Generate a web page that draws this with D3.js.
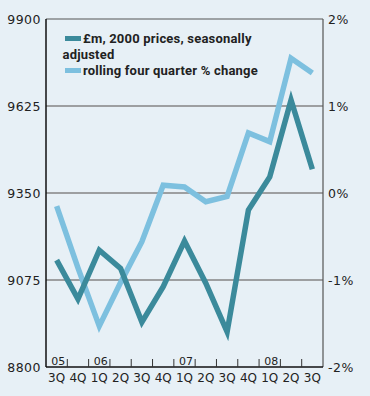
<!DOCTYPE html>
<html>
<head>
<meta charset="utf-8">
<script src="https://cdn.jsdelivr.net/npm/d3@7"></script>
<style>
  html, body { margin: 0; padding: 0; background: #e7f0f6; }
  svg { display: block; }
  .tick-lbl { font-family: "DejaVu Sans", sans-serif; font-size: 12.5px; fill: #222; }
  .legend { font-family: Roboto, "Noto Sans", sans-serif; font-weight: 700; font-size: 13px; letter-spacing: 0.2px; fill: #222; }
</style>
</head>
<body>
<svg id="chart" width="370" height="396"></svg>
<script>
// data
const quarters = ["3Q", "4Q", "1Q", "2Q", "3Q", "4Q", "1Q", "2Q", "3Q", "4Q", "1Q", "2Q", "3Q"];
const yearLabels = ["05", "06", "07", "08"];
const yearIndex = [0, 2, 6, 10];
const gdp = [9138, 9015, 9169, 9112, 8942, 9054, 9198, 9065, 8911, 9296, 9401, 9644, 9425];
const pctChange = [-0.15, -0.86, -1.53, -1.03, -0.56, 0.09, 0.07, -0.1, -0.04, 0.69, 0.59, 1.55, 1.38];
const leftTicks = [8800, 9075, 9350, 9625, 9900];
const rightTicks = [-2, -1, 0, 1, 2];

const darkCol = "#3b8a9b";
const lightCol = "#7dc0df";

const svg = d3.select("#chart");
const pLeft = 46, pRight = 323, pTop = 19, pBottom = 367;

const x = d3.scaleBand()
  .domain(d3.range(quarters.length))
  .range([pLeft, pRight]);

const yL = d3.scaleLinear().domain([8800, 9900]).range([pBottom, pTop]);
const yR = d3.scaleLinear().domain([-2, 2]).range([pBottom, pTop]);

// gridlines
svg.append("g")
  .selectAll("line")
  .data(leftTicks.slice(1, 4))
  .enter()
  .append("line")
  .attr("x1", pLeft).attr("x2", pRight)
  .attr("y1", d => yL(d)).attr("y2", d => yL(d))
  .attr("stroke", "#858585")
  .attr("stroke-width", 1.5);

// frame: top, right, left, bottom
svg.append("line")
  .attr("x1", pLeft).attr("x2", pRight)
  .attr("y1", yL(9900)).attr("y2", yL(9900))
  .attr("stroke", "#555").attr("stroke-width", 1.2);
svg.append("line")
  .attr("x1", pRight).attr("x2", pRight)
  .attr("y1", pTop).attr("y2", pBottom)
  .attr("stroke", "#555").attr("stroke-width", 1.2);
svg.append("line")
  .attr("x1", pLeft).attr("x2", pLeft)
  .attr("y1", pTop).attr("y2", pBottom)
  .attr("stroke", "#111").attr("stroke-width", 1.5);
svg.append("line")
  .attr("x1", pLeft).attr("x2", pRight)
  .attr("y1", pBottom).attr("y2", pBottom)
  .attr("stroke", "#111").attr("stroke-width", 1.5);

// bottom tick marks between quarters
svg.append("g")
  .selectAll("line")
  .data(d3.range(1, quarters.length))
  .enter()
  .append("line")
  .attr("x1", d => x(d)).attr("x2", d => x(d))
  .attr("y1", pBottom - 8).attr("y2", pBottom)
  .attr("stroke", "#333").attr("stroke-width", 1);

// left axis labels
svg.append("g")
  .selectAll("text")
  .data(leftTicks)
  .enter()
  .append("text")
  .attr("class", "tick-lbl")
  .attr("x", 41)
  .attr("y", d => yL(d))
  .attr("dy", "0.36em")
  .attr("text-anchor", "end")
  .style("letter-spacing", "0.5px")
  .text(d => d);

// right axis labels
svg.append("g")
  .selectAll("text")
  .data(rightTicks)
  .enter()
  .append("text")
  .attr("class", "tick-lbl")
  .attr("x", 328)
  .attr("y", d => yR(d))
  .attr("dy", "0.36em")
  .style("letter-spacing", "0.5px")
  .text(d => d + "%");

// quarter labels
svg.append("g")
  .selectAll("text")
  .data(quarters)
  .enter()
  .append("text")
  .attr("class", "tick-lbl")
  .attr("x", (d, i) => x(i) + x.bandwidth() / 2)
  .attr("y", 382)
  .attr("text-anchor", "middle")
  .style("font-size", "12px")
  .text(d => d);

// year labels
svg.append("g")
  .selectAll("text")
  .data(yearLabels)
  .enter()
  .append("text")
  .attr("class", "tick-lbl")
  .attr("x", (d, i) => x(yearIndex[i]) + x.bandwidth() / 2 + 1.5)
  .attr("y", 365)
  .attr("text-anchor", "middle")
  .style("font-size", "11px")
  .text(d => d);

// lines
const lineL = d3.line()
  .x((d, i) => x(i) + x.bandwidth() / 2)
  .y(d => yL(d));
const lineR = d3.line()
  .x((d, i) => x(i) + x.bandwidth() / 2)
  .y(d => yR(d));

svg.append("path")
  .datum(pctChange)
  .attr("d", lineR)
  .attr("fill", "none")
  .attr("stroke", lightCol)
  .attr("stroke-width", 5.5)
  .attr("stroke-linejoin", "miter");

svg.append("path")
  .datum(gdp)
  .attr("d", lineL)
  .attr("fill", "none")
  .attr("stroke", darkCol)
  .attr("stroke-width", 5.5)
  .attr("stroke-linejoin", "miter");

// legend
const lg = svg.append("g");
lg.append("rect").attr("x", 65).attr("y", 36).attr("width", 16).attr("height", 5).attr("fill", darkCol);
lg.append("text").attr("class", "legend").attr("x", 83).attr("y", 43).text("£m, 2000 prices, seasonally");
lg.append("text").attr("class", "legend").attr("x", 62.5).attr("y", 58.5).text("adjusted");
lg.append("rect").attr("x", 65).attr("y", 68).attr("width", 16).attr("height", 5).attr("fill", lightCol);
lg.append("text").attr("class", "legend").attr("x", 83).attr("y", 75).text("rolling four quarter % change");
</script>
</body>
</html>
